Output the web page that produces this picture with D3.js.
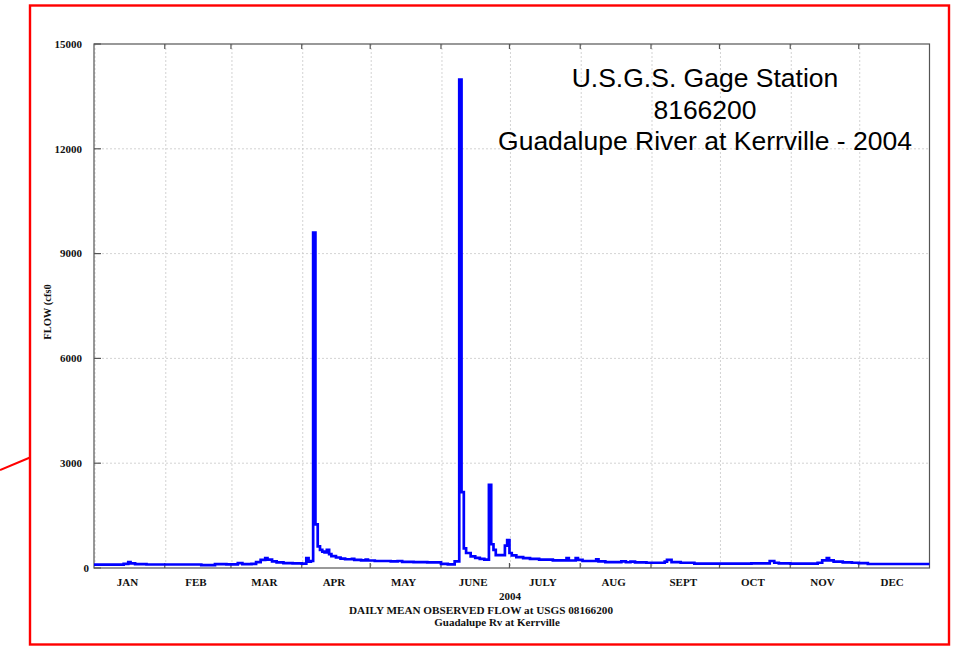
<!DOCTYPE html>
<html>
<head>
<meta charset="utf-8">
<script src="https://cdn.jsdelivr.net/npm/d3@7"></script>
<style>
  html, body { margin: 0; padding: 0; background: #fff; }
  svg { display: block; }
</style>
</head>
<body>
<svg id="chart" width="964" height="646"></svg>
<script>
// ---- Data (step series: date of change -> daily mean flow, cfs) ----
const flowDates = [
  "2004-01-01","2004-01-14","2004-01-16","2004-01-17","2004-01-19","2004-01-24",
  "2004-02-17","2004-02-23","2004-02-28",
  "2004-03-04","2004-03-06","2004-03-10","2004-03-12","2004-03-14","2004-03-16","2004-03-17",
  "2004-03-19","2004-03-21","2004-03-24","2004-03-28",
  "2004-04-01","2004-04-03","2004-04-04","2004-04-05","2004-04-06","2004-04-07","2004-04-08",
  "2004-04-09","2004-04-10","2004-04-11","2004-04-12","2004-04-13","2004-04-14","2004-04-16",
  "2004-04-18","2004-04-20","2004-04-23","2004-04-24","2004-04-27","2004-04-29","2004-04-30",
  "2004-05-03","2004-05-10","2004-05-13","2004-05-15","2004-05-20","2004-05-26",
  "2004-06-01","2004-06-04","2004-06-07","2004-06-09","2004-06-10","2004-06-11","2004-06-12",
  "2004-06-14","2004-06-16","2004-06-18","2004-06-20","2004-06-22","2004-06-23","2004-06-24",
  "2004-06-25","2004-06-29","2004-06-30","2004-07-01","2004-07-02","2004-07-04","2004-07-07",
  "2004-07-10","2004-07-14","2004-07-20","2004-07-26","2004-07-27","2004-07-30","2004-07-31",
  "2004-08-02","2004-08-08","2004-08-09","2004-08-12","2004-08-19","2004-08-21","2004-08-23",
  "2004-08-25","2004-08-30",
  "2004-09-07","2004-09-08","2004-09-10","2004-09-14","2004-09-20",
  "2004-10-15","2004-10-23","2004-10-25","2004-10-27",
  "2004-11-01","2004-11-13","2004-11-15","2004-11-17","2004-11-18","2004-11-20","2004-11-24",
  "2004-11-28","2004-12-01","2004-12-05","2005-01-01"
];
const flowValues = [
  95,120,170,130,110,100,
  80,110,105,
  140,110,120,170,230,280,240,
  190,160,140,130,
  125,280,180,200,9600,1250,620,
  520,470,450,520,400,340,300,
  270,250,260,230,220,240,215,
  200,190,200,175,170,160,
  120,105,190,13980,2170,560,430,
  330,290,260,240,2380,680,520,
  370,640,800,430,360,310,280,
  260,240,220,280,215,285,230,
  200,250,190,170,190,165,185,
  160,150,
  180,230,170,150,125,
  130,200,150,130,
  125,150,220,280,220,180,160,
  150,140,115,115
];
const yTicks = [0, 3000, 6000, 9000, 12000, 15000];
const monthLabels = ["JAN","FEB","MAR","APR","MAY","JUNE","JULY","AUG","SEPT","OCT","NOV","DEC"];
const titleLines = ["U.S.G.S. Gage Station", "8166200", "Guadalupe River at Kerrville - 2004"];
const xTitle = "2004";
const caption1 = "DAILY MEAN OBSERVED FLOW at USGS 08166200";
const caption2 = "Guadalupe Rv at Kerrville";
const yTitle = "FLOW (cfs0";

// ---- Layout ----
const svg = d3.select("#chart");
const L = 94, R = 929.5, T = 44, B = 568;
const parse = d3.utcParse("%Y-%m-%d");
const data = flowDates.map((d, i) => ({ date: parse(d), v: flowValues[i] }));

const x = d3.scaleUtc().domain([parse("2004-01-01"), parse("2005-01-01")]).range([L, R]);
const y = d3.scaleLinear().domain([0, 15000]).range([B, T]);

svg.append("rect").attr("width", 964).attr("height", 646).attr("fill", "#fff");

// red annotation frame
svg.append("rect").attr("x", 30).attr("y", 5.5).attr("width", 919).attr("height", 639)
  .attr("fill", "none").attr("stroke", "#ff0000").attr("stroke-width", 2.4);
svg.append("line").attr("x1", 0).attr("y1", 470).attr("x2", 30).attr("y2", 457.5)
  .attr("stroke", "#ff0000").attr("stroke-width", 2);

const months = d3.utcMonth.range(parse("2004-01-01"), parse("2005-01-01"));

// grid
const grid = svg.append("g").attr("stroke", "#c8c8c8").attr("stroke-width", 0.8)
  .attr("stroke-dasharray", "2,2");
grid.selectAll("line.v").data(months).join("line")
  .attr("x1", d => x(d) + 1).attr("x2", d => x(d) + 1).attr("y1", T).attr("y2", B);
grid.selectAll("line.h").data(yTicks.filter(t => t > 0 && t < 15000)).join("line")
  .attr("x1", L).attr("x2", R).attr("y1", d => y(d)).attr("y2", d => y(d));

// frame
svg.append("rect").attr("x", L).attr("y", T).attr("width", R - L).attr("height", B - T)
  .attr("fill", "none").attr("stroke", "#555").attr("stroke-width", 1.2);

// ticks
const tk = svg.append("g").attr("stroke", "#555").attr("stroke-width", 1.2);
tk.selectAll("line.b").data(months.slice(1)).join("line")
  .attr("x1", d => x(d)).attr("x2", d => x(d)).attr("y1", B).attr("y2", B - 5);
tk.selectAll("line.t").data(months.slice(1)).join("line")
  .attr("x1", d => x(d)).attr("x2", d => x(d)).attr("y1", T).attr("y2", T + 5);
tk.selectAll("line.l").data(yTicks).join("line")
  .attr("x1", L).attr("x2", L + 7).attr("y1", d => y(d)).attr("y2", d => y(d));

const serif = "'Liberation Serif', 'Times New Roman', serif";

// y tick labels
svg.append("g").selectAll("text").data(yTicks).join("text")
  .attr("x", d => d === 0 ? L - 5 : L - 12).attr("y", d => y(d)).attr("dy", "0.35em")
  .attr("text-anchor", "end").attr("font-family", serif).attr("font-weight", "bold")
  .attr("font-size", 11).attr("fill", "#111").text(d => d);

// month labels
svg.append("g").selectAll("text").data(months).join("text")
  .attr("x", (d, i) => (x(d) + x(d3.utcMonth.offset(d, 1))) / 2 - 2)
  .attr("y", 586).attr("text-anchor", "middle")
  .attr("font-family", serif).attr("font-weight", "bold").attr("font-size", 11)
  .attr("fill", "#111").text((d, i) => monthLabels[i]);

// axis titles / captions
svg.append("text").attr("x", 510).attr("y", 600).attr("text-anchor", "middle")
  .attr("font-family", serif).attr("font-weight", "bold").attr("font-size", 11)
  .attr("fill", "#111").text(xTitle);
svg.append("text").attr("x", 481).attr("y", 614).attr("text-anchor", "middle")
  .attr("font-family", serif).attr("font-weight", "bold").attr("font-size", 11.2)
  .attr("fill", "#111").text(caption1);
svg.append("text").attr("x", 497).attr("y", 626).attr("text-anchor", "middle")
  .attr("font-family", serif).attr("font-weight", "bold").attr("font-size", 11)
  .attr("fill", "#111").text(caption2);
svg.append("text").attr("transform", "translate(51,312) rotate(-90)")
  .attr("text-anchor", "middle").attr("font-family", serif).attr("font-weight", "bold")
  .attr("font-size", 10.5).attr("fill", "#111").text(yTitle);

// flow line
const line = d3.line().x(d => x(d.date)).y(d => y(d.v)).curve(d3.curveStepAfter);
svg.append("path").datum(data).attr("d", line)
  .attr("fill", "none").attr("stroke", "#0000ff").attr("stroke-width", 2.7)
  .attr("stroke-linejoin", "miter");

// chart title
svg.append("g").selectAll("text").data(titleLines).join("text")
  .attr("x", 705).attr("y", (d, i) => 87 + i * 31.5).attr("text-anchor", "middle")
  .attr("font-family", "'Liberation Sans', Arial, sans-serif").attr("font-size", 26.5)
  .attr("fill", "#000").text(d => d);
</script>
</body>
</html>
